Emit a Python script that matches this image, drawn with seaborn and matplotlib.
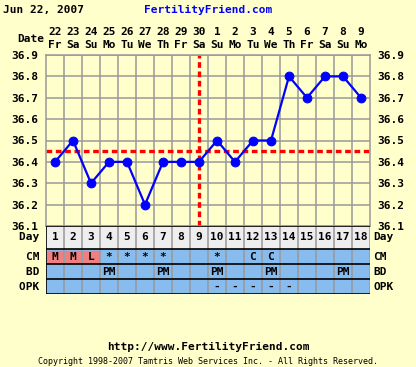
import matplotlib
matplotlib.use("Agg")
import matplotlib.pyplot as plt
import seaborn as sns
from matplotlib.patches import Rectangle

# -------------------------------
# Datos del ciclo
# -------------------------------
cycle_days = list(range(1, 19))
dates = ["22", "23", "24", "25", "26", "27", "28", "29", "30",
         "1", "2", "3", "4", "5", "6", "7", "8", "9"]
weekdays = ["Fr", "Sa", "Su", "Mo", "Tu", "We", "Th", "Fr", "Sa",
            "Su", "Mo", "Tu", "We", "Th", "Fr", "Sa", "Su", "Mo"]
temps = [36.4, 36.5, 36.3, 36.4, 36.4, 36.2, 36.4, 36.4, 36.4,
         36.5, 36.4, 36.5, 36.5, 36.8, 36.7, 36.8, 36.8, 36.7]
temp_ticks = [36.1, 36.2, 36.3, 36.4, 36.5, 36.6, 36.7, 36.8, 36.9]
coverline = 36.45
ovulation_day = 9

cm = ["M", "M", "L", "*", "*", "*", "*", "", "", "*", "", "C", "C", "", "", "", "", ""]
bd = ["", "", "", "PM", "", "", "PM", "", "", "PM", "", "", "PM", "", "", "", "PM", ""]
opk = ["", "", "", "", "", "", "", "", "", "-", "-", "-", "-", "-", "", "", "", ""]
menses_days = [1, 2, 3]

BG = "#FFFFCC"
GRID = "#999999"
BLUE_CELL = "#88BBEE"
SALMON = "#F08080"
FONT = "DejaVu Sans Mono"

plt.rcParams["font.family"] = [FONT, "DejaVu Sans"]
plt.rcParams["font.weight"] = "bold"

W, H = 416, 367
fig = plt.figure(figsize=(W / 100, H / 100), dpi=100, facecolor=BG)

# -------------------------------
# Grafico de temperatura
# -------------------------------
ax = fig.add_axes([46 / W, (H - 226) / H, 324 / W, 171 / H], facecolor=BG)
ax.set_xlim(0.5, 18.5)
ax.set_ylim(36.1, 36.9)

ax.set_xticks(cycle_days)
ax.set_xticklabels([f"{d}\n{w}" for d, w in zip(dates, weekdays)],
                   fontsize=8, fontweight="bold", linespacing=1.35)
ax.set_xticks([d + 0.5 for d in cycle_days[:-1]], minor=True)
ax.tick_params(axis="x", which="both", bottom=False, top=False,
               labelbottom=False, labeltop=True, pad=0)
ax.set_yticks(temp_ticks)
ax.set_yticklabels([f"{t:.1f}" for t in temp_ticks], fontsize=8, fontweight="bold")
ax.tick_params(axis="y", left=False, right=False, labelleft=True,
               labelright=True, pad=2)
ax.grid(True, which="minor", axis="x", color=GRID, lw=1.1)
ax.grid(True, which="major", axis="y", color=GRID, lw=1.1)
for s in ax.spines.values():
    s.set_color(GRID)
    s.set_linewidth(1.1)
ax.set_axisbelow(True)

ax.axhline(coverline, color="#FF0000", lw=2.4, dashes=(1.7, 1.1), zorder=2)
ax.axvline(ovulation_day, color="#FF0000", lw=2.4, dashes=(1.7, 1.1), zorder=2)

sns.lineplot(x=cycle_days, y=temps, ax=ax, color="#0000FF", lw=1.6,
             marker="o", markersize=6.3, markeredgecolor="#0000FF", zorder=3)
ax.set_xlabel("")
ax.set_ylabel("")

fig.text(44 / W, 1 - 39 / H, "Date", ha="right", va="center", fontsize=8, fontweight="bold")

# -------------------------------
# Tabla de observaciones
# -------------------------------
tb = fig.add_axes([46 / W, (H - 294) / H, 324 / W, 68 / H], facecolor=BLUE_CELL)
tb.set_xlim(0.5, 18.5)
tb.set_ylim(68, 0)
tb.axis("off")

tb.add_patch(Rectangle((0.5, 0), 18, 23, color="#EEEEEE", zorder=0))
tb.add_patch(Rectangle((0.5, 23), 18, 45, color=BLUE_CELL, zorder=0))
for d in menses_days:
    tb.add_patch(Rectangle((d - 0.42, 24.5), 0.84, 12.5, color=SALMON, zorder=1))
for x in [d + 0.5 for d in cycle_days[:-1]]:
    tb.plot([x, x], [0, 68], color=GRID, lw=1.1, zorder=2)
tb.plot([18.5, 18.5], [0, 68], color=GRID, lw=1.1, zorder=2)
for y in [0, 23, 38, 53, 68]:
    tb.plot([0.5, 18.5], [y, y], color="black", lw=1.2, zorder=3)
tb.plot([0.5, 0.5], [0, 68], color="black", lw=1.2, zorder=3)

rows = [("Day", 11.5, [str(d) for d in cycle_days]),
        ("CM", 31, cm), ("BD", 46, bd), ("OPK", 61, opk)]
for name, yc, vals in rows:
    for d, v in zip(cycle_days, vals):
        if v:
            tb.text(d, yc, v, ha="center", va="center", fontsize=8,
                    fontweight="bold", zorder=4)
    tb.text(0.5, yc, name + " ", ha="right", va="center", fontsize=8,
            fontweight="bold", clip_on=False)
    tb.text(18.68, yc, name, ha="left", va="center", fontsize=8,
            fontweight="bold", clip_on=False)

# -------------------------------
# Encabezado y pie
# -------------------------------
fig.text(3 / W, 1 - 10 / H, "Jun 22, 2007", ha="left", va="center",
         fontsize=8, fontweight="bold")
fig.text(208 / W, 1 - 10 / H, "FertilityFriend.com", ha="center", va="center",
         fontsize=8, fontweight="bold", color="#0000FF")
fig.text(208 / W, 1 - 347 / H, "http://www.FertilityFriend.com", ha="center",
         va="center", fontsize=8, fontweight="bold")
fig.text(208 / W, 1 - 362 / H,
         "Copyright 1998-2007 Tamtris Web Services Inc. - All Rights Reserved.",
         ha="center", va="center", fontsize=6, fontweight="normal")

fig.savefig("out.png", dpi=100, facecolor=BG)
